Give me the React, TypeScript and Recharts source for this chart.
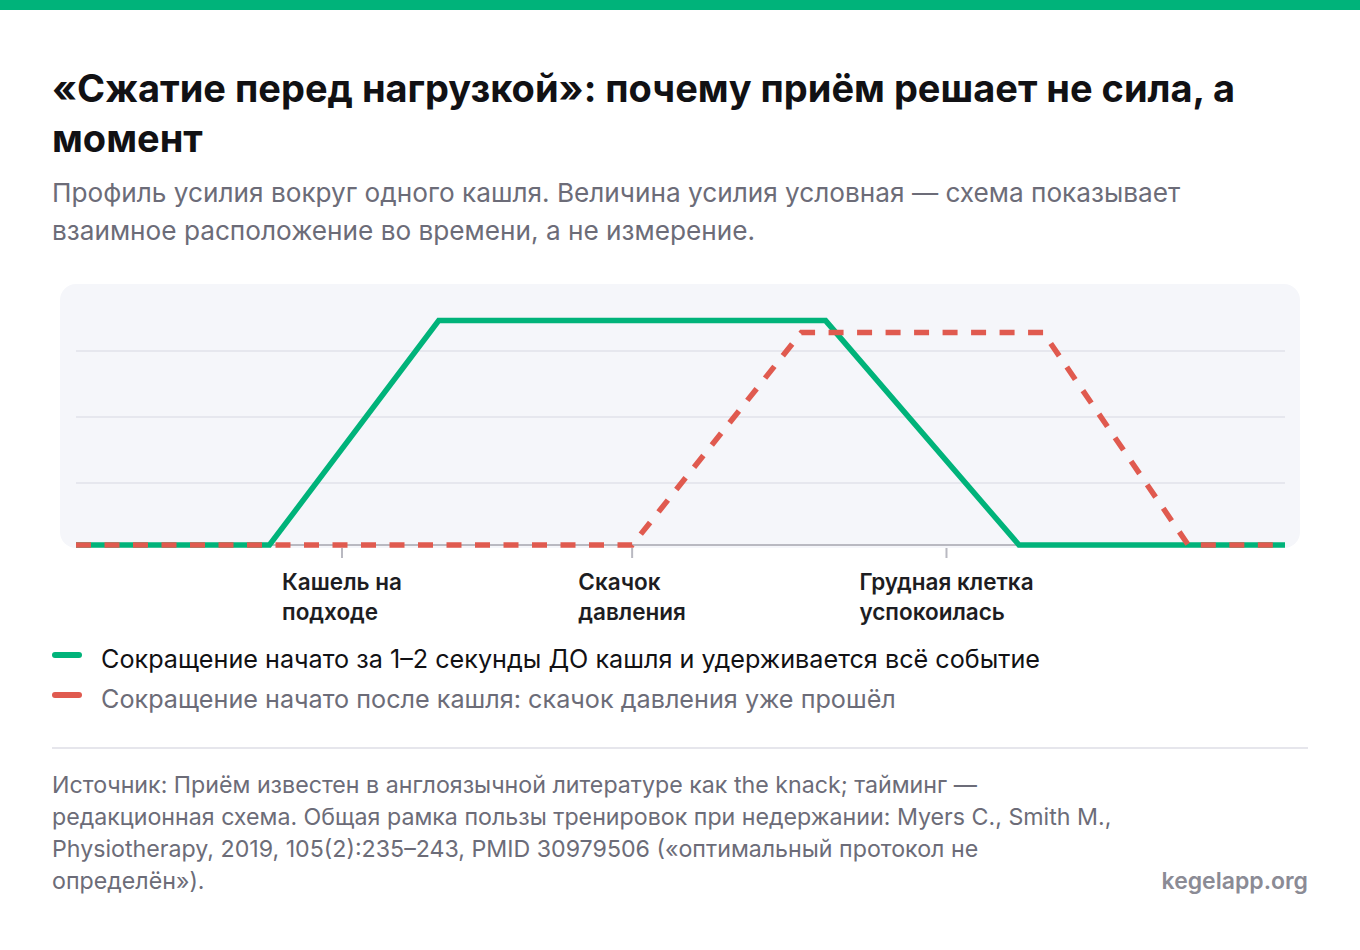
import React from 'react';
import { LineChart, Line, XAxis, YAxis, CartesianGrid } from 'recharts';

const GREEN = '#00b37a';
const RED = '#e05a4f';
const GREY_TEXT = '#6c6c78';
const AXIS_GREY = '#b9b9c1';

// time axis, 0..100 (schematic)
const X_TICKS = [22, 46, 72];
const X_TICK_LABELS = [
  ['Кашель на', 'подходе'],
  ['Скачок', 'давления'],
  ['Грудная клетка', 'успокоилась'],
];
const GRID_TICKS = [23.5, 48.5, 73.5];

// contraction started before the cough
const EARLY_NAME = 'Сокращение начато за 1–2 секунды ДО кашля и удерживается всё событие';
const EARLY_X = [0, 16, 30, 62, 78, 100];
const EARLY_Y = [0, 0, 85, 85, 0, 0];

// contraction started after the cough
const LATE_NAME = 'Сокращение начато после кашля: скачок давления уже прошёл';
const LATE_X = [0, 46, 60, 80, 92, 100];
const LATE_Y = [0, 0, 80.5, 80.5, 0, 0];

const early = EARLY_X.map((x, i) => ({ x, v: EARLY_Y[i] }));
const late = LATE_X.map((x, i) => ({ x, v: LATE_Y[i] }));

// tick mark + two-line label, block centred on the tick, lines left-aligned
const TickLabel = (props: any) => {
  const { x, y, payload } = props;
  const idx = X_TICKS.indexOf(payload.value);
  const lines = X_TICK_LABELS[idx] || [];
  return (
    <g>
      <line x1={x} x2={x} y1={y - 12} y2={y - 2} stroke={AXIS_GREY} strokeWidth={2} />
      <foreignObject x={x - 140} y={y + 7} width={280} height={70}>
        <div style={{ display: 'flex', justifyContent: 'center' }}>
          <div
            style={{
              textAlign: 'left',
              fontFamily: 'Inter, sans-serif',
              fontSize: 22.5,
              fontWeight: 600,
              lineHeight: '30px',
              color: '#1d1d22',
              whiteSpace: 'nowrap',
            }}
          >
            {lines.map((l, i) => (
              <div key={i}>{l}</div>
            ))}
          </div>
        </div>
      </foreignObject>
    </g>
  );
};

const legendItems = [
  { name: EARLY_NAME, color: GREEN, text: '#111114' },
  { name: LATE_NAME, color: RED, text: GREY_TEXT },
];

export default function App() {
  return (
    <div
      style={{
        position: 'absolute',
        left: 0,
        top: 0,
        width: 1360,
        height: 950,
        background: '#fff',
        overflow: 'hidden',
        fontFamily: 'Inter, sans-serif',
      }}
    >
      <div style={{ position: 'absolute', left: 0, top: 0, width: 1360, height: 10, background: GREEN }} />

      <div
        style={{
          position: 'absolute',
          left: 52,
          top: 63,
          width: 1290,
          fontSize: 38,
          fontWeight: 700,
          lineHeight: '50px',
          color: '#111114',
          whiteSpace: 'nowrap',
        }}
      >
        «Сжатие перед нагрузкой»: почему приём решает не сила, а<br />
        момент
      </div>

      <div
        style={{
          position: 'absolute',
          left: 52,
          top: 174,
          width: 1290,
          fontSize: 26.2,
          lineHeight: '38px',
          color: GREY_TEXT,
          whiteSpace: 'nowrap',
        }}
      >
        Профиль усилия вокруг одного кашля. Величина усилия условная — схема показывает
        <br />
        взаимное расположение во времени, а не измерение.
      </div>

      <div
        style={{
          position: 'absolute',
          left: 60,
          top: 284,
          width: 1240,
          height: 264,
          borderRadius: 16,
          background: '#f5f6fa',
        }}
      />

      <div style={{ position: 'absolute', left: 52, top: 270 }}>
        <LineChart width={1256} height={370} margin={{ top: 11, right: 23, bottom: 0, left: 24 }}>
          <CartesianGrid
            vertical={false}
            horizontalValues={GRID_TICKS}
            stroke="#e6e7ee"
            strokeWidth={2}
          />
          {/* baseline drawn as a grid line so the series sit on top of it */}
          <CartesianGrid vertical={false} horizontalValues={[0]} stroke={AXIS_GREY} strokeWidth={2} />
          <XAxis
            type="number"
            dataKey="x"
            domain={[0, 100]}
            ticks={X_TICKS}
            interval={0}
            height={95}
            axisLine={false}
            tickLine={false}
            tickSize={13}
            tick={<TickLabel />}
          />
          <YAxis hide type="number" domain={[0, 100]} />
          <Line
            data={early}
            dataKey="v"
            type="linear"
            stroke={GREEN}
            strokeWidth={5.5}
            strokeLinejoin="miter"
            dot={false}
            activeDot={false}
            isAnimationActive={false}
          />
          <Line
            data={late}
            dataKey="v"
            type="linear"
            stroke={RED}
            strokeWidth={5.5}
            strokeDasharray="15 13.5"
            strokeLinejoin="miter"
            dot={false}
            activeDot={false}
            isAnimationActive={false}
          />
        </LineChart>
      </div>

      <div style={{ position: 'absolute', left: 52, top: 639 }}>
        {legendItems.map((it) => (
          <div key={it.name} style={{ display: 'flex', alignItems: 'center', height: 40 }}>
            <span
              style={{
                display: 'inline-block',
                width: 30,
                height: 6,
                borderRadius: 3,
                background: it.color,
                marginRight: 19,
                marginTop: -8,
              }}
            />
            <span style={{ fontSize: 25.2, lineHeight: '40px', color: it.text, whiteSpace: 'nowrap' }}>
              {it.name}
            </span>
          </div>
        ))}
      </div>

      <div style={{ position: 'absolute', left: 52, top: 747, width: 1256, height: 2, background: '#e6e6ec' }} />

      <div
        style={{
          position: 'absolute',
          left: 52,
          top: 769,
          fontSize: 23.2,
          lineHeight: '32px',
          color: GREY_TEXT,
          whiteSpace: 'nowrap',
        }}
      >
        Источник: Приём известен в англоязычной литературе как the knack; тайминг —
        <br />
        редакционная схема. Общая рамка пользы тренировок при недержании: Myers C., Smith M.,
        <br />
        Physiotherapy, 2019, 105(2):235–243, PMID 30979506 («оптимальный протокол не
        <br />
        определён»).
      </div>

      <div
        style={{
          position: 'absolute',
          right: 52,
          top: 865,
          fontSize: 23,
          fontWeight: 600,
          lineHeight: '32px',
          color: '#8b8b95',
        }}
      >
        kegelapp.org
      </div>
    </div>
  );
}
